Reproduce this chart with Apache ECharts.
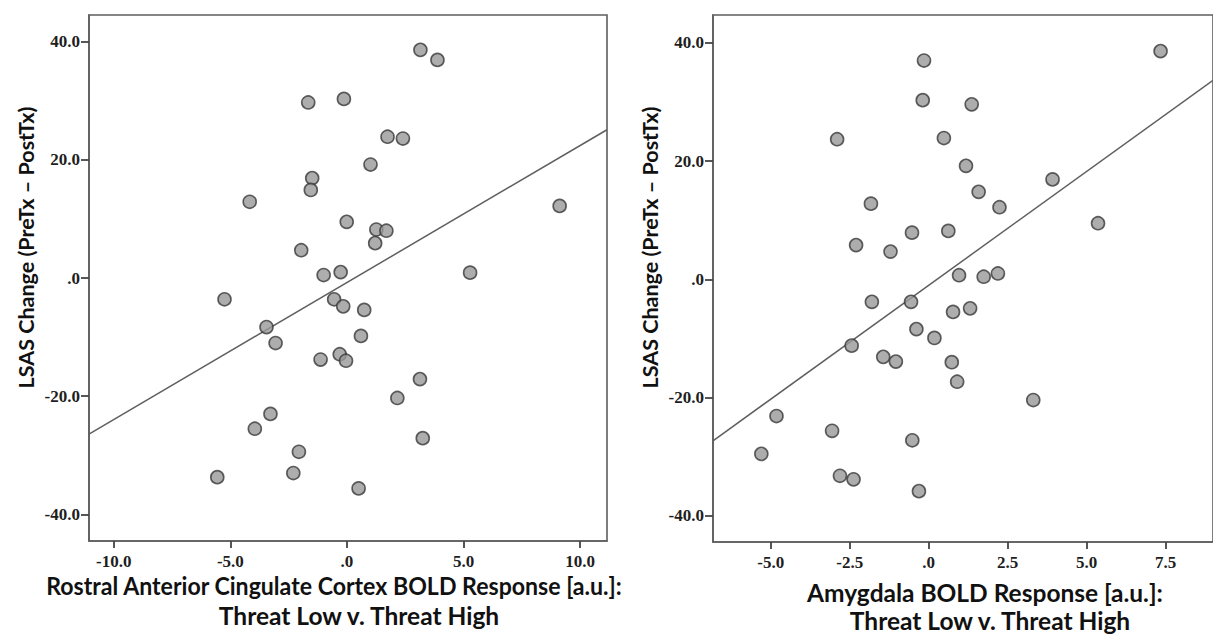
<!DOCTYPE html>
<html>
<head>
<meta charset="utf-8">
<script src="https://cdn.jsdelivr.net/npm/echarts@6/dist/echarts.min.js"></script>
<style>
  html, body { margin: 0; padding: 0; background: #fff; }
  #chart { width: 1213px; height: 635px; }
</style>
</head>
<body>
<div id="chart"></div>
<script>
// ---- Data ----
// Left panel: Rostral ACC BOLD response (x) vs LSAS change (y)
const accX = [3.15, 3.88, -1.66, -0.13, 1.74, 2.40, 1.01, -1.49, -1.55, -4.17, 9.12, -0.01, 1.26, 1.69, 1.21, -1.96, -1.00, -0.27, 5.28, -5.25, -0.55, -0.16, 0.74, -3.45, -3.06, 0.60, -1.13, -0.31, -0.04, 3.13, 2.16, -3.28, -3.95, 3.25, -2.06, -2.30, -5.56, 0.50];
const accY = [38.6, 36.9, 29.7, 30.3, 23.9, 23.6, 19.2, 16.9, 14.9, 12.9, 12.2, 9.5, 8.2, 8.0, 5.9, 4.7, 0.5, 1.0, 0.9, -3.6, -3.6, -4.8, -5.4, -8.3, -11.0, -9.8, -13.8, -12.9, -14.0, -17.1, -20.3, -23.0, -25.5, -27.1, -29.4, -33.0, -33.7, -35.6];
// Right panel: Amygdala BOLD response (x) vs LSAS change (y)
const amyX = [7.34, -0.15, -0.19, 1.36, -2.90, 0.48, 1.18, 3.92, 1.58, -1.83, 2.24, 5.36, -0.53, 0.62, -2.30, -1.21, 0.96, 1.74, 2.19, -1.80, -0.56, 0.77, 1.31, -0.39, 0.18, -2.44, -1.44, -1.04, 0.73, 0.90, 3.31, -4.82, -3.06, -0.52, -5.30, -2.81, -2.38, -0.31];
const amyY = [38.6, 37.0, 30.3, 29.6, 23.7, 23.9, 19.2, 16.9, 14.8, 12.8, 12.2, 9.5, 7.9, 8.2, 5.8, 4.7, 0.7, 0.45, 1.0, -3.8, -3.8, -5.5, -4.9, -8.4, -9.9, -11.2, -13.1, -13.9, -14.0, -17.3, -20.4, -23.1, -25.6, -27.2, -29.5, -33.2, -33.8, -35.8];

// Tick labels
const yTicks = [-40, -20, 0, 20, 40];
const accXTicks = [-10, -5, 0, 5, 10];
const amyXTicks = [-5, -2.5, 0, 2.5, 5, 7.5];

// Axis ranges
const accXRange = [-11.06, 11.15];
const amyXRange = [-6.83, 9.0];
const accYRange = [-44.5, 44.5];
const amyYRange = [-44.4, 44.7];

// Texts
const yTitle = 'LSAS Change (PreTx \u2013 PostTx)';
const accTitle1 = 'Rostral Anterior Cingulate Cortex BOLD Response [a.u.]:';
const amyTitle1 = 'Amygdala BOLD Response [a.u.]:';
const xTitle2 = 'Threat Low v. Threat High';

// ---- Layout ----
const panels = [
  { left: 89, top: 15, width: 518, height: 526, xr: accXRange, yr: accYRange, xt: accXTicks, xs: accX, ys: accY },
  { left: 713, top: 15, width: 513, height: 527, xr: amyXRange, yr: amyYRange, xt: amyXTicks, xs: amyX, ys: amyY }
];

// ---- Helpers ----
function fit(xs, ys) {
  const n = xs.length;
  const mx = xs.reduce((a, b) => a + b, 0) / n;
  const my = ys.reduce((a, b) => a + b, 0) / n;
  let sxy = 0, sxx = 0;
  for (let i = 0; i < n; i++) { sxy += (xs[i] - mx) * (ys[i] - my); sxx += (xs[i] - mx) ** 2; }
  const b = sxy / sxx;
  return { a: my - b * mx, b: b };
}
function fitLine(xs, ys, range) {
  const f = fit(xs, ys);
  return range.map(x => [x, f.a + f.b * x]);
}
function fmt(v) {
  if (Math.abs(v) < 1e-9) return '.0';
  return v.toFixed(1);
}
const pts = (xs, ys) => xs.map((x, i) => [x, ys[i]]);

const axisCol = '#5e5e5e';
const tickCol = '#444444';
const tickFont = { fontFamily: 'Liberation Serif', fontWeight: 'bold', fontSize: 17, color: '#1e1e1e' };
const yTitleFont = 'bold 21.5px Lato';
const xTitleFont = 'bold 24.5px Lato';

const grids = [], xAxes = [], yAxes = [], series = [];
panels.forEach((p, i) => {
  grids.push({ left: p.left, top: p.top, width: p.width, height: p.height, show: true, borderColor: axisCol, borderWidth: 1.6, backgroundColor: 'transparent' });
  xAxes.push({
    type: 'value', gridIndex: i, min: p.xr[0], max: p.xr[1],
    splitLine: { show: false },
    axisLine: { show: true, onZero: false, lineStyle: { color: axisCol, width: 1.6 } },
    axisTick: { show: true, inside: false, length: 7, customValues: p.xt, lineStyle: { color: tickCol, width: 1.8 } },
    axisLabel: Object.assign({ customValues: p.xt, margin: 12, formatter: fmt }, tickFont)
  });
  yAxes.push({
    type: 'value', gridIndex: i, min: p.yr[0], max: p.yr[1],
    splitLine: { show: false },
    axisLine: { show: true, onZero: false, lineStyle: { color: axisCol, width: 1.6 } },
    axisTick: { show: true, inside: false, length: 8, customValues: yTicks, lineStyle: { color: tickCol, width: 1.8 } },
    axisLabel: Object.assign({ customValues: yTicks, margin: 9, formatter: fmt }, tickFont)
  });
  series.push(
    { type: 'line', xAxisIndex: i, yAxisIndex: i, data: fitLine(p.xs, p.ys, p.xr), symbol: 'none', lineStyle: { color: '#5f5f5f', width: 1.5 }, z: 1, silent: true },
    { type: 'scatter', xAxisIndex: i, yAxisIndex: i, data: pts(p.xs, p.ys), symbolSize: 13, itemStyle: { color: '#999999', borderColor: '#383838', borderWidth: 1.6 }, z: 2 }
  );
});

const chart = echarts.init(document.getElementById('chart'), null, { renderer: 'svg' });
chart.setOption({
  animation: false,
  backgroundColor: '#fff',
  grid: grids,
  xAxis: xAxes,
  yAxis: yAxes,
  series: series,
  graphic: [
    { type: 'text', x: 26, y: 247.5, rotation: Math.PI / 2, style: { text: yTitle, font: yTitleFont, fill: '#111', align: 'center', verticalAlign: 'middle' } },
    { type: 'text', x: 650, y: 247.5, rotation: Math.PI / 2, style: { text: yTitle, font: yTitleFont, fill: '#111', align: 'center', verticalAlign: 'middle' } },
    { type: 'text', x: 334, y: 585, scaleX: 0.944, style: { text: accTitle1, font: xTitleFont, fill: '#111', align: 'center', verticalAlign: 'middle' } },
    { type: 'text', x: 359, y: 615, style: { text: xTitle2, font: xTitleFont, fill: '#111', align: 'center', verticalAlign: 'middle' } },
    { type: 'text', x: 985, y: 592, style: { text: amyTitle1, font: xTitleFont, fill: '#111', align: 'center', verticalAlign: 'middle' } },
    { type: 'text', x: 990, y: 620, style: { text: xTitle2, font: xTitleFont, fill: '#111', align: 'center', verticalAlign: 'middle' } }
  ]
});
</script>
</body>
</html>
